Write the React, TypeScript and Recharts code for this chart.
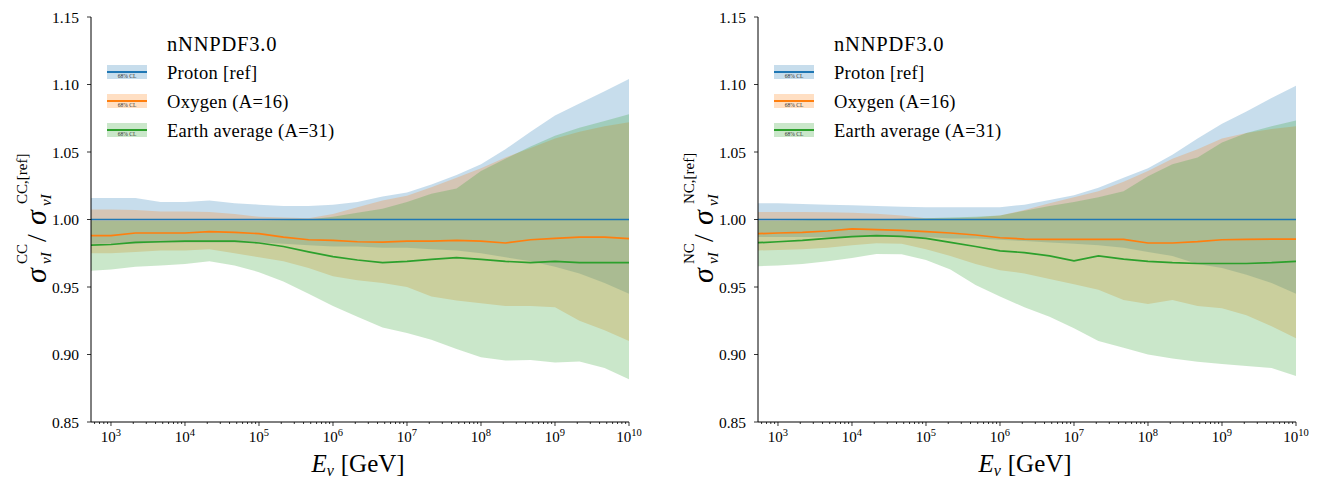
import * as React from "react";
import { ComposedChart, Area, Line, XAxis, YAxis } from "recharts";

const FONT = "Liberation Serif, DejaVu Serif, Times New Roman, serif";
const BLUE = "#1f77b4";
const ORANGE = "#ff7f0e";
const GREEN = "#2ca02c";

// x positions are log10(E_nu / GeV)
const logE = [2.73, 3, 3.33, 3.67, 4, 4.33, 4.67, 5, 5.33, 5.67, 6, 6.33, 6.67, 7, 7.33, 7.67, 8, 8.33, 8.67, 9, 9.33, 9.67, 10];

const protonMid = [1, 1, 1, 1, 1, 1, 1, 1, 1, 1, 1, 1, 1, 1, 1, 1, 1, 1, 1, 1, 1, 1, 1];

// charged current
const protonHiCC = [1.016, 1.016, 1.016, 1.013, 1.013, 1.014, 1.012, 1.011, 1.01, 1.01, 1.011, 1.013, 1.017, 1.02, 1.026, 1.033, 1.041, 1.052, 1.065, 1.077, 1.086, 1.095, 1.104];
const protonLoCC = [0.982, 0.982, 0.982, 0.983, 0.983, 0.983, 0.983, 0.983, 0.982, 0.981, 0.98, 0.98, 0.979, 0.979, 0.978, 0.977, 0.975, 0.972, 0.969, 0.965, 0.96, 0.953, 0.945];
const oxygenCC = [0.988, 0.988, 0.99, 0.99, 0.99, 0.991, 0.9905, 0.9895, 0.987, 0.985, 0.9845, 0.9835, 0.9833, 0.984, 0.984, 0.9846, 0.984, 0.9826, 0.985, 0.986, 0.987, 0.987, 0.9858];
const oxygenHiCC = [1.0074, 1.0074, 1.007, 1.006, 1.006, 1.0055, 1.004, 1.002, 1.0015, 1.001, 1.004, 1.009, 1.014, 1.0176, 1.0238, 1.031, 1.038, 1.046, 1.053, 1.06, 1.065, 1.069, 1.072];
const oxygenLoCC = [0.975, 0.975, 0.976, 0.977, 0.977, 0.978, 0.975, 0.972, 0.969, 0.964, 0.958, 0.955, 0.953, 0.95, 0.943, 0.94, 0.938, 0.936, 0.936, 0.935, 0.925, 0.918, 0.91];
const earthCC = [0.981, 0.9815, 0.983, 0.9835, 0.984, 0.984, 0.984, 0.9826, 0.98, 0.976, 0.9725, 0.97, 0.968, 0.969, 0.9705, 0.9718, 0.9705, 0.969, 0.968, 0.969, 0.968, 0.968, 0.968];
const earthHiCC = [0.999, 0.999, 0.999, 0.999, 0.999, 0.999, 0.999, 0.999, 0.9995, 1.0, 1.002, 1.005, 1.008, 1.013, 1.019, 1.023, 1.036, 1.045, 1.054, 1.062, 1.068, 1.073, 1.078];
const earthLoCC = [0.962, 0.963, 0.965, 0.966, 0.967, 0.969, 0.966, 0.961, 0.954, 0.945, 0.936, 0.928, 0.92, 0.916, 0.911, 0.904, 0.898, 0.8955, 0.896, 0.894, 0.8948, 0.89, 0.8816];

// neutral current
const protonHiNC = [1.012, 1.012, 1.0115, 1.011, 1.0105, 1.01, 1.0095, 1.009, 1.009, 1.009, 1.009, 1.011, 1.0145, 1.018, 1.0235, 1.031, 1.038, 1.048, 1.06, 1.071, 1.08, 1.09, 1.099];
const protonLoNC = [0.987, 0.987, 0.987, 0.987, 0.987, 0.987, 0.987, 0.987, 0.986, 0.986, 0.985, 0.984, 0.983, 0.982, 0.981, 0.979, 0.976, 0.973, 0.967, 0.964, 0.959, 0.953, 0.945];
const oxygenNC = [0.9895, 0.99, 0.9905, 0.9915, 0.993, 0.9925, 0.992, 0.991, 0.99, 0.9885, 0.9865, 0.9855, 0.9853, 0.9853, 0.9853, 0.9853, 0.9826, 0.9826, 0.9836, 0.985, 0.9853, 0.9855, 0.9855];
const oxygenHiNC = [1.0055, 1.0055, 1.0055, 1.0053, 1.005, 1.0043, 1.003, 1.001, 1.001, 1.0015, 1.003, 1.007, 1.012, 1.0165, 1.021, 1.028, 1.036, 1.045, 1.052, 1.06, 1.064, 1.067, 1.069];
const oxygenLoNC = [0.977, 0.9775, 0.978, 0.979, 0.981, 0.9825, 0.982, 0.978, 0.973, 0.967, 0.9625, 0.96, 0.956, 0.952, 0.948, 0.9404, 0.9375, 0.9404, 0.936, 0.9343, 0.929, 0.921, 0.912];
const earthNC = [0.9828, 0.9835, 0.9845, 0.986, 0.9873, 0.988, 0.9875, 0.986, 0.983, 0.98, 0.9767, 0.9755, 0.973, 0.9694, 0.973, 0.9706, 0.969, 0.968, 0.9674, 0.9674, 0.9674, 0.968, 0.969];
const earthHiNC = [0.999, 0.999, 0.9995, 1.0, 1.0, 1.0, 1.0005, 1.001, 1.0015, 1.002, 1.003, 1.0065, 1.01, 1.013, 1.0165, 1.021, 1.032, 1.041, 1.046, 1.057, 1.064, 1.069, 1.0733];
const earthLoNC = [0.9654, 0.966, 0.967, 0.969, 0.9715, 0.9745, 0.9743, 0.97, 0.963, 0.9515, 0.943, 0.935, 0.928, 0.9195, 0.91, 0.905, 0.9, 0.897, 0.8946, 0.893, 0.8915, 0.89, 0.884];

const yTicks = [0.85, 0.9, 0.95, 1.0, 1.05, 1.1, 1.15];
const xDecades = [3, 4, 5, 6, 7, 8, 9, 10];
const xMin = 2.73;
const xMax = 10;

const legendTitle = "nNNPDF3.0";
const legendLabels = ["Proton [ref]", "Oxygen (A=16)", "Earth average (A=31)"];
const legendColors = [BLUE, ORANGE, GREEN];

// minor ticks at 2..9 x 10^n
const xTicks: number[] = [];
for (let n = 2; n <= 9; n++) {
  for (let m = 1; m <= 9; m++) {
    const v = n + Math.log10(m);
    if (v >= xMin - 1e-9 && v <= xMax + 1e-9) xTicks.push(v);
  }
}
xTicks.push(10);

const LogTick = (props: any) => {
  const { x, y, payload } = props;
  const v = payload.value;
  const major = xDecades.some((d) => Math.abs(d - v) < 1e-6);
  return (
    <g>
      <line x1={x} x2={x} y1={y} y2={y + (major ? 4 : 2)} stroke="#000" strokeWidth={0.8} />
      {major && (
        <text x={x} y={y + 20} textAnchor="middle" fontSize={15} style={{ fontFamily: FONT }} fill="#000">
          10
          <tspan dy={-6} fontSize={10.5}>
            {Math.round(v)}
          </tspan>
        </text>
      )}
    </g>
  );
};

function Panel({
  kind,
  pHi,
  pLo,
  oMid,
  oHi,
  oLo,
  eMid,
  eHi,
  eLo,
}: {
  kind: string;
  pHi: number[];
  pLo: number[];
  oMid: number[];
  oHi: number[];
  oLo: number[];
  eMid: number[];
  eHi: number[];
  eLo: number[];
}) {
  const data = logE.map((L, i) => ({
    L,
    pMid: protonMid[i],
    pBand: [pLo[i], pHi[i]],
    oMid: oMid[i],
    oBand: [oLo[i], oHi[i]],
    eMid: eMid[i],
    eBand: [eLo[i], eHi[i]],
  }));

  return (
    <div style={{ position: "relative", width: 660, height: 482, fontFamily: FONT }}>
      <ComposedChart
        width={660}
        height={482}
        data={data}
        margin={{ top: 17, right: 31, bottom: 0, left: 0 }}
        style={{ fontFamily: FONT }}
      >
        <XAxis
          dataKey="L"
          type="number"
          domain={[xMin, xMax]}
          ticks={xTicks}
          interval={0}
          allowDataOverflow
          height={60}
          tickSize={0}
          tickMargin={0}
          tickLine={false}
          axisLine={{ stroke: "#000", strokeWidth: 1 }}
          tick={<LogTick />}
        />
        <XAxis
          xAxisId="top"
          dataKey="L"
          type="number"
          orientation="top"
          domain={[xMin, xMax]}
          height={0}
          tick={false}
          tickLine={false}
          axisLine={{ stroke: "#000", strokeWidth: 1 }}
        />
        <YAxis
          type="number"
          domain={[0.85, 1.15]}
          ticks={yTicks}
          interval={0}
          allowDataOverflow
          width={91}
          tickSize={4}
          tickMargin={8}
          tickFormatter={(v: number) => v.toFixed(2)}
          tick={{ fontSize: 15.5, fill: "#000", style: { fontFamily: FONT } }}
          tickLine={{ stroke: "#000", strokeWidth: 0.8 }}
          axisLine={{ stroke: "#000", strokeWidth: 1 }}
        />
        <YAxis
          yAxisId="right"
          orientation="right"
          type="number"
          domain={[0.85, 1.15]}
          width={0}
          tick={false}
          tickLine={false}
          axisLine={{ stroke: "#000", strokeWidth: 1 }}
        />

        <Area type="linear" dataKey="pBand" fill={BLUE} fillOpacity={0.25} stroke="none" isAnimationActive={false} activeDot={false} />
        <Area type="linear" dataKey="oBand" fill={ORANGE} fillOpacity={0.25} stroke="none" isAnimationActive={false} activeDot={false} />
        <Area type="linear" dataKey="eBand" fill={GREEN} fillOpacity={0.25} stroke="none" isAnimationActive={false} activeDot={false} />

        <Line type="linear" dataKey="pMid" stroke={BLUE} strokeWidth={1.7} dot={false} isAnimationActive={false} />
        <Line type="linear" dataKey="oMid" stroke={ORANGE} strokeWidth={1.7} dot={false} isAnimationActive={false} />
        <Line type="linear" dataKey="eMid" stroke={GREEN} strokeWidth={1.7} dot={false} isAnimationActive={false} />
      </ComposedChart>

      {/* legend, axis titles */}
      <svg
        width={660}
        height={482}
        style={{ position: "absolute", left: 0, top: 0, pointerEvents: "none", fontFamily: FONT }}
      >
        <text x={167} y={51} fontSize={20.5} letterSpacing={0.8} fill="#000">
          {legendTitle}
        </text>
        {legendLabels.map((label, i) => {
          const cy = 72 + i * 29;
          return (
            <g key={label}>
              <rect x={107} y={cy - 7} width={40} height={14} fill={legendColors[i]} fillOpacity={0.25} />
              <line x1={107} x2={147} y1={cy} y2={cy} stroke={legendColors[i]} strokeWidth={1.8} />
              <text x={127} y={cy + 6} fontSize={5.5} textAnchor="middle" fill="#333">
                68% CL
              </text>
              <text x={167} y={cy + 6.5} fontSize={18.5} letterSpacing={0.3} fill="#000">
                {label}
              </text>
            </g>
          );
        })}

        <text x={358} y={472} textAnchor="middle" fontSize={25} fill="#000">
          <tspan fontStyle="italic">E</tspan>
          <tspan fontStyle="italic" fontSize={16} dy={4}>
            ν
          </tspan>
          <tspan dy={-4} dx={7}>
            [GeV]
          </tspan>
        </text>

        <g transform="translate(46,283) rotate(-90)" fill="#000">
          <text x={0} y={0} fontSize={30} fontStyle="italic">σ</text>
          <text x={19} y={-19} fontSize={15}>{kind}</text>
          <text x={19} y={5} fontSize={15} fontStyle="italic">νI</text>
          <text x={41} y={0} fontSize={28}>/</text>
          <text x={58} y={0} fontSize={30} fontStyle="italic">σ</text>
          <text x={77} y={5} fontSize={15} fontStyle="italic">νI</text>
          <text x={79} y={-19} fontSize={15}>{kind + ",[ref]"}</text>
        </g>
      </svg>
    </div>
  );
}

export default function App() {
  return (
    <div style={{ position: "absolute", left: 0, top: 0, width: 1323, height: 482, background: "#fff", overflow: "hidden" }}>
      <div style={{ position: "absolute", left: 0, top: 0 }}>
        <Panel kind="CC" pHi={protonHiCC} pLo={protonLoCC} oMid={oxygenCC} oHi={oxygenHiCC} oLo={oxygenLoCC} eMid={earthCC} eHi={earthHiCC} eLo={earthLoCC} />
      </div>
      <div style={{ position: "absolute", left: 667, top: 0 }}>
        <Panel kind="NC" pHi={protonHiNC} pLo={protonLoNC} oMid={oxygenNC} oHi={oxygenHiNC} oLo={oxygenLoNC} eMid={earthNC} eHi={earthHiNC} eLo={earthLoNC} />
      </div>
    </div>
  );
}
